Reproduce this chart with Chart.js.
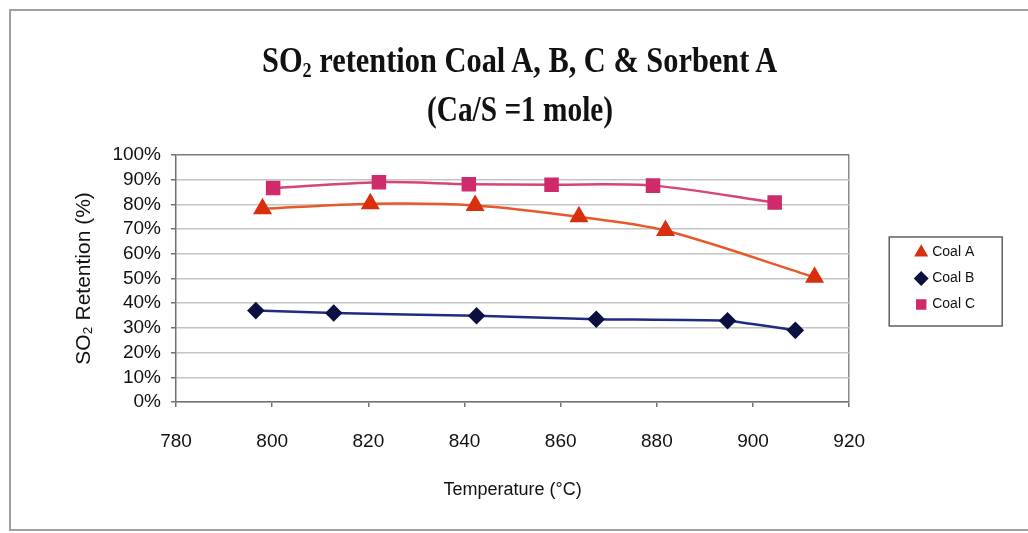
<!DOCTYPE html>
<html>
<head>
<meta charset="utf-8">
<script src="https://cdn.jsdelivr.net/npm/chart.js@4.4.1/dist/chart.umd.min.js"></script>
<style>
  html, body { margin: 0; padding: 0; background: #fff; }
  #wrap { position: relative; width: 1028px; height: 533px; overflow: hidden; }
  #chart { position: absolute; left: 0; top: 0; }
  .title {
    position: absolute; left: 0; width: 1040px; text-align: center;
    font-family: "Liberation Serif", "Times New Roman", serif; font-weight: bold;
    font-size: 35px; line-height: 35px; color: #111; white-space: nowrap;
  }
  .title span { display: inline-block; transform-origin: 50% 50%; }
  .title sub { font-size: 0.6em; vertical-align: -0.22em; line-height: 0; }
  #title1 { top: 43px; }
  #title2 { top: 92px; }
</style>
</head>
<body>
<div id="wrap">
  <canvas id="chart" width="1028" height="533"></canvas>
  <div class="title" id="title1"><span data-w="515">SO<sub>2</sub> retention Coal A, B, C &amp; Sorbent A</span></div>
  <div class="title" id="title2"><span data-w="186">(Ca/S =1 mole)</span></div>
</div>
<script>
// temperatures (°C) and SO2 retention (%) for each coal
const coalATemp = [798, 820.4, 842.2, 863.8, 881.8, 912.8];
const coalARet = [78.2, 80.3, 79.6, 75.0, 69.4, 50.5];

const coalBTemp = [796.6, 812.8, 842.5, 867.4, 894.7, 908.8];
const coalBRet = [37.0, 36.0, 34.9, 33.5, 32.9, 29.0];

const coalCTemp = [800.2, 822.2, 840.9, 858.1, 879.2, 904.5];
const coalCRet = [86.6, 89.0, 88.2, 88.0, 87.6, 80.8];

const tempTicks = [780, 800, 820, 840, 860, 880, 900, 920];
const retTicks = [0, 10, 20, 30, 40, 50, 60, 70, 80, 90, 100];

// squeeze the serif title lines to their width
document.querySelectorAll(".title span").forEach((el) => {
  const k = Number(el.dataset.w) / el.offsetWidth;
  el.style.transform = `scaleX(${k})`;
});

function toPoints(xs, ys) {
  return xs.map((x, i) => ({ x: x, y: ys[i] }));
}

const sans = "'Liberation Sans', Arial, sans-serif";

// page frame + box round the legend
const framePlugin = {
  id: "frame",
  beforeDraw(chart) {
    const ctx = chart.ctx;
    ctx.save();
    ctx.fillStyle = "#ffffff";
    ctx.fillRect(0, 0, chart.width, chart.height);
    ctx.strokeStyle = "#a0a0a0";
    ctx.lineWidth = 2;
    ctx.beginPath();
    ctx.moveTo(chart.width, 10);
    ctx.lineTo(10, 10);
    ctx.lineTo(10, 530);
    ctx.lineTo(chart.width, 530);
    ctx.stroke();
    ctx.restore();
  },
  afterDraw(chart) {
    const boxes = chart.legend.legendHitBoxes;
    if (!boxes || !boxes.length) return;
    const first = boxes[0];
    const last = boxes[boxes.length - 1];
    const top = first.top + first.height / 2 - 15.5;
    const bottom = last.top + last.height / 2 + 21.5;
    const left = first.left - 28;
    const ctx = chart.ctx;
    ctx.save();
    ctx.strokeStyle = "#606060";
    ctx.lineWidth = 1.5;
    ctx.strokeRect(left, top, 113, bottom - top);
    ctx.restore();
  },
};

const ctx = document.getElementById("chart").getContext("2d");
const chart = new Chart(ctx, {
  type: "line",
  data: {
    datasets: [
      {
        label: "Coal A",
        data: toPoints(coalATemp, coalARet),
        borderColor: "#e8592a",
        backgroundColor: "#d8300e",
        pointBackgroundColor: "#d8300e",
        pointBorderColor: "#d8300e",
        pointStyle: "triangle",
        pointRadius: 8.5,
        borderWidth: 2.5,
        tension: 0.3,
      },
      {
        label: "Coal B",
        data: toPoints(coalBTemp, coalBRet),
        borderColor: "#1f2b84",
        backgroundColor: "#0b1040",
        pointBackgroundColor: "#0b1040",
        pointBorderColor: "#0b1040",
        pointStyle: "rectRot",
        pointRadius: 7,
        borderWidth: 2.5,
        tension: 0.12,
      },
      {
        label: "Coal C",
        data: toPoints(coalCTemp, coalCRet),
        borderColor: "#d8437c",
        backgroundColor: "#cf2a6c",
        pointBackgroundColor: "#cf2a6c",
        pointBorderColor: "#cf2a6c",
        pointStyle: "rect",
        pointRadius: 8.5,
        borderWidth: 2.5,
        tension: 0.3,
      },
    ],
  },
  options: {
    responsive: false,
    animation: false,
    devicePixelRatio: 1,
    layout: { padding: { left: 68, top: 155, right: 43, bottom: 28 } },
    plugins: {
      title: { display: false },
      tooltip: { enabled: false },
      legend: {
        position: "right",
        fullSize: false,
        labels: {
          usePointStyle: true,
          boxWidth: 8,
          boxHeight: 8,
          padding: 12,
          color: "#111",
          font: { family: sans, size: 14 },
        },
      },
    },
    scales: {
      x: {
        type: "linear",
        min: 780,
        max: 920,
        afterBuildTicks(scale) {
          scale.ticks = tempTicks.map((v) => ({ value: v }));
        },
        afterFit(scale) {
          scale.height = 103;
        },
        grid: {
          drawOnChartArea: true,
          color: (c) => (c.tick && c.tick.value === 920 ? "#8a8a8a" : "rgba(0,0,0,0)"),
          lineWidth: 1.5,
          tickColor: "#707070",
          tickLength: 5,
        },
        border: { color: "#707070", width: 1.5 },
        ticks: {
          color: "#111",
          padding: 23,
          maxRotation: 0,
          autoSkip: false,
          font: { family: sans, size: 19 },
        },
        title: {
          display: true,
          text: "Temperature (°C)",
          color: "#111",
          font: { family: sans, size: 18 },
          padding: { top: 4, bottom: 4 },
        },
      },
      y: {
        min: 0,
        max: 100,
        afterBuildTicks(scale) {
          scale.ticks = retTicks.map((v) => ({ value: v }));
        },
        afterFit(scale) {
          scale.width = 176 - 68;
        },
        grid: {
          color: (c) => (c.tick && c.tick.value === 100 ? "#7a7a7a" : "#c4c4c4"),
          lineWidth: 1.5,
          tickColor: "#707070",
          tickLength: 5,
        },
        border: { color: "#707070", width: 1.5 },
        ticks: {
          color: "#111",
          padding: 10,
          autoSkip: false,
          font: { family: sans, size: 19 },
          callback: (v) => v + "%",
        },
        title: {
          display: true,
          text: "SO₂ Retention (%)",
          color: "#111",
          font: { family: sans, size: 21 },
          padding: { top: 4, bottom: 4 },
        },
      },
      // spacer between the plot and the legend
      gap: {
        type: "linear",
        position: "right",
        display: true,
        grid: { display: false },
        border: { display: false },
        ticks: { display: false },
        afterFit(scale) {
          scale.width = 56;
        },
      },
    },
  },
  plugins: [framePlugin],
});
</script>
</body>
</html>
